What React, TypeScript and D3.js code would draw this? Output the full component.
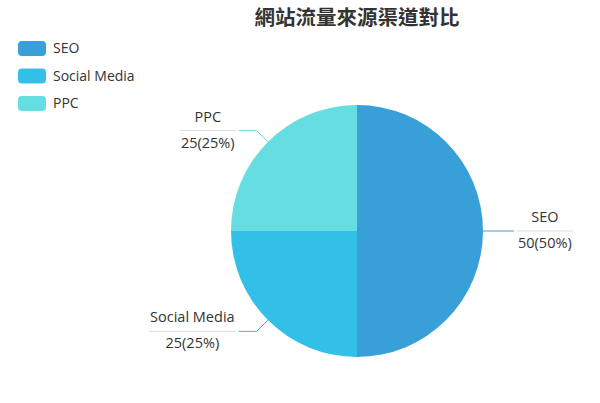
import React from "react";
import * as d3 from "d3";

// chart data
const channels = ["SEO", "Social Media", "PPC"];
const visits = [50, 25, 25];
const sliceColors = ["#389fd9", "#33c0e8", "#66dde0"];
const chartTitle = "網站流量來源渠道對比";

const W = 600;
const H = 403;
const FONT = "'Open Sans', 'Noto Sans', sans-serif";
const LABEL_SIZE = 14.5;

// measure text width so the label separator fits the text
const measure = (txt: string, size: number) => {
  const c = document.createElement("canvas").getContext("2d");
  if (!c) return txt.length * size * 0.55;
  c.font = `${size}px 'Open Sans'`;
  return c.measureText(txt).width;
};

export default function App() {
  const cx = 357;
  const cy = 231;
  const radius = 126;

  const total = d3.sum(visits);
  const pie = d3
    .pie<number>()
    .sort(null)
    .value((d) => d);
  const arcs = pie(visits);
  const arcGen = d3.arc<d3.PieArcDatum<number>>().innerRadius(0).outerRadius(radius);

  const legendY = d3.scalePoint<string>().domain(channels).range([48.5, 103.5]);

  return (
    <svg
      width={W}
      height={H}
      style={{ position: "absolute", left: 0, top: 0, background: "#fff" }}
      fontFamily={FONT}
    >
      <text
        x={cx}
        y={25}
        textAnchor="middle"
        fontSize={20.5}
        fontWeight="bold"
        fill="#333"
        fontFamily="'Noto Sans CJK TC', sans-serif"
      >
        {chartTitle}
      </text>

      {/* legend */}
      {channels.map((name, i) => (
        <g key={name} transform={`translate(18,${legendY(name)})`}>
          <rect x={0} y={-7.5} width={28} height={15} rx={4} fill={sliceColors[i]} />
          <text x={35} y={0} dy="0.35em" fontSize={14} fill="#333">
            {name}
          </text>
        </g>
      ))}

      <g transform={`translate(${cx},${cy})`}>
        {arcs.map((a, i) => (
          <path key={channels[i]} d={arcGen(a) ?? ""} fill={sliceColors[i]} />
        ))}

        {arcs.map((a, i) => {
          const mid = (a.startAngle + a.endAngle) / 2;
          const sx = Math.sin(mid);
          const sy = -Math.cos(mid);
          const p0 = [sx * radius, sy * radius];
          const p1 = [sx * (radius + 16), sy * (radius + 16)];
          const right = sx >= 0;
          const p2 = [p1[0] + (right ? 15 : -18), p1[1]];
          const name = channels[i];
          const val = `${visits[i]}(${Math.round((visits[i] / total) * 100)}%)`;
          const tw = Math.max(measure(name, LABEL_SIZE), measure(val, LABEL_SIZE)) + 2;
          const bx = right ? p2[0] + 3 : p2[0] - 3 - tw;
          const mx = bx + tw / 2;
          return (
            <g key={"lbl" + name}>
              <polyline
                points={[p0, p1, p2].map((p) => p.join(",")).join(" ")}
                fill="none"
                stroke={sliceColors[i]}
                strokeWidth={1}
              />
              <line x1={bx} x2={bx + tw} y1={p2[1]} y2={p2[1]} stroke="#ddd" strokeWidth={1} />
              <text x={mx} y={p2[1] - 9} textAnchor="middle" fontSize={LABEL_SIZE} fill="#333">
                {name}
              </text>
              <text x={mx} y={p2[1] + 17} textAnchor="middle" fontSize={LABEL_SIZE} fill="#333">
                {val}
              </text>
            </g>
          );
        })}
      </g>
    </svg>
  );
}
